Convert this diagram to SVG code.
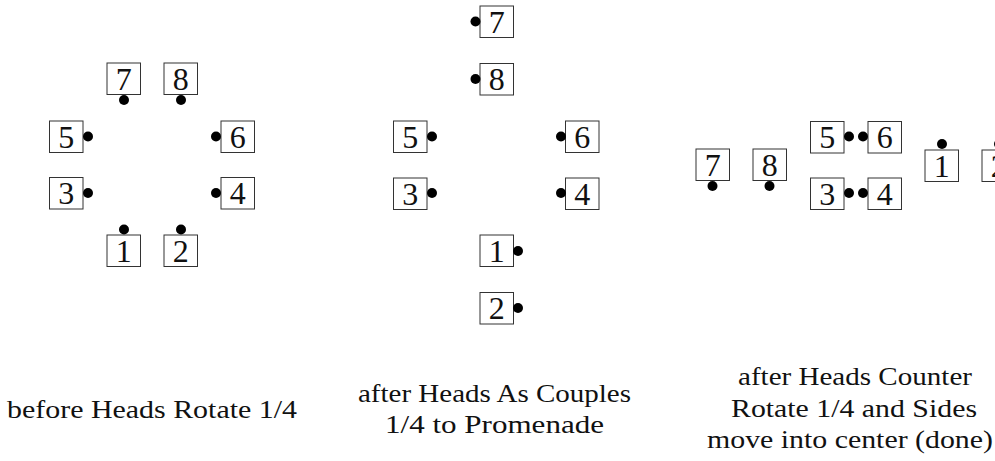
<svg xmlns="http://www.w3.org/2000/svg" width="995" height="461" viewBox="0 0 995 461">
<style>
.b{fill:#fff;stroke:#333;stroke-width:1}
.n{font-family:"Liberation Serif","DejaVu Serif",serif;fill:#111;text-anchor:middle}
.d{fill:#000}
.l{font-family:"Liberation Serif","DejaVu Serif",serif;fill:#111;text-anchor:middle}
</style>
<rect width="995" height="461" fill="#fff"/>
<g id="panel1" font-size="32">
<g id="p1-7"><rect class="b" x="107" y="63" width="33.5" height="31.5"/><text class="n" x="123.75" y="89.5">7</text><circle class="d" cx="124" cy="100" r="5"/></g>
<g id="p1-8"><rect class="b" x="164" y="63" width="33.5" height="31.5"/><text class="n" x="180.75" y="89.5">8</text><circle class="d" cx="181" cy="100" r="5"/></g>
<g id="p1-5"><rect class="b" x="49.5" y="121" width="33.5" height="31.5"/><text class="n" x="66.25" y="147.5">5</text><circle class="d" cx="88" cy="136.5" r="5"/></g>
<g id="p1-6"><rect class="b" x="221" y="121" width="33.5" height="31.5"/><text class="n" x="237.75" y="147.5">6</text><circle class="d" cx="216" cy="136.5" r="5"/></g>
<g id="p1-3"><rect class="b" x="49.5" y="177.5" width="33.5" height="31.5"/><text class="n" x="66.25" y="204">3</text><circle class="d" cx="88" cy="193" r="5"/></g>
<g id="p1-4"><rect class="b" x="221" y="177.5" width="33.5" height="31.5"/><text class="n" x="237.75" y="204">4</text><circle class="d" cx="216" cy="193" r="5"/></g>
<g id="p1-1"><rect class="b" x="107" y="235" width="33.5" height="31.5"/><text class="n" x="123.75" y="261.5">1</text><circle class="d" cx="124" cy="229.5" r="5"/></g>
<g id="p1-2"><rect class="b" x="164" y="235" width="33.5" height="31.5"/><text class="n" x="180.75" y="261.5">2</text><circle class="d" cx="181" cy="229.5" r="5"/></g>
</g>
<g id="panel2" font-size="32">
<g id="p2-7"><rect class="b" x="480" y="6" width="33.5" height="31.5"/><text class="n" x="496.75" y="32.5">7</text><circle class="d" cx="475.5" cy="21.5" r="5"/></g>
<g id="p2-8"><rect class="b" x="480" y="63.5" width="33.5" height="31.5"/><text class="n" x="496.75" y="90">8</text><circle class="d" cx="475.5" cy="79" r="5"/></g>
<g id="p2-5"><rect class="b" x="393.5" y="121" width="33.5" height="31.5"/><text class="n" x="410.25" y="147.5">5</text><circle class="d" cx="432" cy="136.5" r="5"/></g>
<g id="p2-6"><rect class="b" x="565.5" y="121" width="33.5" height="31.5"/><text class="n" x="582.25" y="147.5">6</text><circle class="d" cx="561" cy="136.5" r="5"/></g>
<g id="p2-3"><rect class="b" x="393.5" y="178" width="33.5" height="31.5"/><text class="n" x="410.25" y="204.5">3</text><circle class="d" cx="432" cy="193" r="5"/></g>
<g id="p2-4"><rect class="b" x="565.5" y="178" width="33.5" height="31.5"/><text class="n" x="582.25" y="204.5">4</text><circle class="d" cx="561" cy="193" r="5"/></g>
<g id="p2-1"><rect class="b" x="480" y="235" width="33.5" height="31.5"/><text class="n" x="496.75" y="261.5">1</text><circle class="d" cx="518" cy="251" r="5"/></g>
<g id="p2-2"><rect class="b" x="480" y="292.5" width="33.5" height="31.5"/><text class="n" x="496.75" y="319">2</text><circle class="d" cx="518" cy="308" r="5"/></g>
</g>
<g id="panel3" font-size="32">
<g id="p3-7"><rect class="b" x="696" y="149" width="33.5" height="31.5"/><text class="n" x="712.75" y="175.5">7</text><circle class="d" cx="712.5" cy="186" r="5"/></g>
<g id="p3-8"><rect class="b" x="753" y="149" width="33.5" height="31.5"/><text class="n" x="769.75" y="175.5">8</text><circle class="d" cx="769.5" cy="186" r="5"/></g>
<g id="p3-5"><rect class="b" x="810.5" y="121.5" width="33.5" height="31.5"/><text class="n" x="827.25" y="148">5</text><circle class="d" cx="849" cy="136.5" r="5"/></g>
<g id="p3-6"><rect class="b" x="868" y="121.5" width="33.5" height="31.5"/><text class="n" x="884.75" y="148">6</text><circle class="d" cx="863" cy="136.5" r="5"/></g>
<g id="p3-3"><rect class="b" x="810.5" y="178" width="33.5" height="31.5"/><text class="n" x="827.25" y="204.5">3</text><circle class="d" cx="849" cy="193" r="5"/></g>
<g id="p3-4"><rect class="b" x="868" y="178" width="33.5" height="31.5"/><text class="n" x="884.75" y="204.5">4</text><circle class="d" cx="863" cy="193" r="5"/></g>
<g id="p3-1"><rect class="b" x="925" y="150" width="33.5" height="31.5"/><text class="n" x="941.75" y="176.5">1</text><circle class="d" cx="942" cy="144" r="5"/></g>
<g id="p3-2"><rect class="b" x="982" y="150" width="33.5" height="31.5"/><text class="n" x="998.75" y="176.5">2</text><circle class="d" cx="999" cy="144" r="5"/></g>
</g>
<g id="connectors"></g>
<g id="labels" font-size="25">
<text class="l" x="152" y="418" textLength="290" lengthAdjust="spacingAndGlyphs">before Heads Rotate 1/4</text>
<text class="l" x="494.5" y="402" textLength="273" lengthAdjust="spacingAndGlyphs">after Heads As Couples</text>
<text class="l" x="494.5" y="433" textLength="219" lengthAdjust="spacingAndGlyphs">1/4 to Promenade</text>
<text class="l" x="855" y="385" textLength="234" lengthAdjust="spacingAndGlyphs">after Heads Counter</text>
<text class="l" x="854" y="417" textLength="246" lengthAdjust="spacingAndGlyphs">Rotate 1/4 and Sides</text>
<text class="l" x="850" y="447.5" textLength="286" lengthAdjust="spacingAndGlyphs">move into center (done)</text>
</g>
</svg>
